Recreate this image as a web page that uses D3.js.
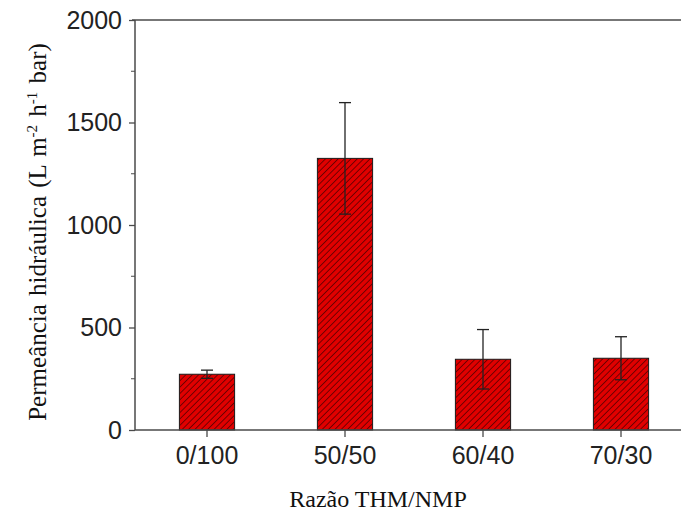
<!DOCTYPE html>
<html>
<head>
<meta charset="utf-8">
<script src="https://cdn.jsdelivr.net/npm/d3@7"></script>
<style>
  body { margin: 0; background: #fff; }
  svg { display: block; }
</style>
</head>
<body>
<div id="wrapper"></div>
<script>
// data
var categories = ["0/100", "50/50", "60/40", "70/30"];
var values = [272, 1325, 345, 350];
var errors = [20, 272, 145, 105];
var yTicks = [0, 500, 1000, 1500, 2000];
var yMinor = [250, 750, 1250, 1750];

var width = 681, height = 513;

var svg = d3.select("#wrapper").append("svg")
    .attr("width", width)
    .attr("height", height);

// hatch pattern for the bars
var defs = svg.append("defs");
var pat = defs.append("pattern")
    .attr("id", "hatch")
    .attr("patternUnits", "userSpaceOnUse")
    .attr("width", 4.5)
    .attr("height", 4.5)
    .attr("patternTransform", "rotate(45)");
pat.append("rect").attr("width", 4.5).attr("height", 4.5).attr("fill", "#e00000");
pat.append("line")
    .attr("x1", 0).attr("y1", 0).attr("x2", 0).attr("y2", 4.5)
    .attr("stroke", "#3a0000").attr("stroke-width", 1.3);

var y = d3.scaleLinear().domain([0, 2000]).range([430, 20]);
var x = d3.scaleBand().domain(categories).range([138, 690]).paddingInner(0.6).paddingOuter(0.3);

var axisColor = "#4a4a4a";
var sans = "Liberation Sans, Arial, sans-serif";
var serif = "Liberation Serif, Times New Roman, serif";

// bars
svg.selectAll("rect.bar")
    .data(values)
    .enter().append("rect")
    .attr("class", "bar")
    .attr("x", function(d, i) { return x(categories[i]); })
    .attr("width", x.bandwidth())
    .attr("y", function(d) { return y(d); })
    .attr("height", function(d) { return y(0) - y(d); })
    .attr("fill", "url(#hatch)")
    .attr("stroke", "#1a1a1a")
    .attr("stroke-width", 1);

// error bars
function cx(i) { return x(categories[i]) + x.bandwidth() / 2; }
var eb = svg.selectAll("g.err")
    .data(values)
    .enter().append("g")
    .attr("class", "err")
    .attr("stroke", "#222")
    .attr("stroke-width", 1.3);
eb.append("line")
    .attr("x1", function(d, i) { return cx(i); })
    .attr("x2", function(d, i) { return cx(i); })
    .attr("y1", function(d, i) { return y(d + errors[i]); })
    .attr("y2", function(d, i) { return y(d - errors[i]); });
eb.append("line")
    .attr("x1", function(d, i) { return cx(i) - 6; })
    .attr("x2", function(d, i) { return cx(i) + 6; })
    .attr("y1", function(d, i) { return y(d + errors[i]); })
    .attr("y2", function(d, i) { return y(d + errors[i]); });
eb.append("line")
    .attr("x1", function(d, i) { return cx(i) - 6; })
    .attr("x2", function(d, i) { return cx(i) + 6; })
    .attr("y1", function(d, i) { return y(d - errors[i]); })
    .attr("y2", function(d, i) { return y(d - errors[i]); });

// y axis
var yAxis = svg.append("g")
    .attr("transform", "translate(135,0)")
    .call(d3.axisLeft(y).tickValues(yTicks).tickFormat(d3.format("d")).tickSize(6).tickPadding(7));
yAxis.append("g")
    .selectAll("line")
    .data(yMinor)
    .enter().append("line")
    .attr("x1", 0).attr("x2", -4)
    .attr("y1", function(d) { return y(d); })
    .attr("y2", function(d) { return y(d); })
    .attr("stroke", axisColor);
yAxis.select(".domain").remove();
yAxis.append("line").attr("x1", 0).attr("x2", 0).attr("y1", 20).attr("y2", 430)
    .attr("stroke", axisColor).attr("stroke-width", 1.5);

// x axis
var xAxis = svg.append("g")
    .attr("transform", "translate(0,430)")
    .call(d3.axisBottom(x).tickSize(7).tickPadding(9));
xAxis.select(".domain").remove();
xAxis.append("line").attr("x1", 135).attr("x2", width).attr("y1", 0).attr("y2", 0)
    .attr("stroke", axisColor).attr("stroke-width", 1.5);

// top frame line
svg.append("line")
    .attr("x1", 132).attr("x2", width).attr("y1", 20).attr("y2", 20)
    .attr("stroke", axisColor).attr("stroke-width", 1.5);

svg.selectAll(".tick line").attr("stroke", axisColor).attr("stroke-width", 1.3);
svg.selectAll(".tick text")
    .attr("font-family", sans)
    .attr("font-size", 25)
    .attr("fill", "#222");

// axis titles
svg.append("text")
    .attr("x", 378).attr("y", 507)
    .attr("text-anchor", "middle")
    .attr("font-family", serif)
    .attr("font-size", 24)
    .attr("fill", "#111")
    .text("Razão THM/NMP");

var yt = svg.append("text")
    .attr("transform", "translate(46,232) rotate(-90)")
    .attr("text-anchor", "middle")
    .attr("font-family", serif)
    .attr("font-size", 25)
    .attr("word-spacing", 2)
    .attr("fill", "#111");
yt.append("tspan").text("Permeância hidráulica (L m");
yt.append("tspan").attr("dy", -9).attr("font-size", 15).text("-2");
yt.append("tspan").attr("dy", 9).text(" h");
yt.append("tspan").attr("dy", -9).attr("font-size", 15).text("-1");
yt.append("tspan").attr("dy", 9).text(" bar)");
</script>
</body>
</html>
